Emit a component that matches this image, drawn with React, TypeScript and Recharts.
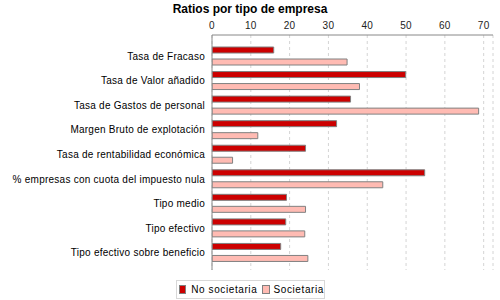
import { BarChart, Bar, XAxis, YAxis, CartesianGrid } from "recharts";

const categories: string[] = [
  "Tasa de Fracaso",
  "Tasa de Valor añadido",
  "Tasa de Gastos de personal",
  "Margen Bruto de explotación",
  "Tasa de rentabilidad económica",
  "% empresas con cuota del impuesto nula",
  "Tipo medio",
  "Tipo efectivo",
  "Tipo efectivo sobre beneficio",
];

const noSocietaria: number[] = [15.9, 49.9, 35.7, 32.1, 24.1, 54.8, 19.2, 19.0, 17.7];
const societaria: number[] = [34.8, 38.0, 68.7, 11.8, 5.3, 44.0, 24.1, 23.9, 24.7];

const xTicks: number[] = [0, 10, 20, 30, 40, 50, 60, 70];

const data = categories.map((name, i) => ({
  name,
  noSocietaria: noSocietaria[i],
  societaria: societaria[i],
}));

const font = "'Liberation Sans', Arial, sans-serif";

// plain ticks so long labels are not wrapped
const CategoryTick = (props: any) => {
  const { x, y, payload } = props;
  return (
    <text x={x} y={y} dy="0.355em" textAnchor="end" fontSize={10} fontFamily={font} fill="#000" letterSpacing={0.25}>
      {payload.value}
    </text>
  );
};

const ValueTick = (props: any) => {
  const { x, payload } = props;
  return (
    <text x={x} y={29} textAnchor="middle" fontSize={10} fontFamily={font} fill="#222" letterSpacing={0.3}>
      {payload.value}
    </text>
  );
};

const App: React.FC = () => {
  return (
    <div style={{ position: "absolute", left: 0, top: 0, width: 500, height: 300, fontFamily: font }}>
      <div
        style={{
          position: "absolute",
          top: 2,
          left: 0,
          width: 500,
          textAlign: "center",
          fontSize: 12,
          lineHeight: "14px",
          fontWeight: "bold",
          color: "#000",
        }}
      >
        Ratios por tipo de empresa
      </div>

      <BarChart
        width={500}
        height={300}
        data={data}
        layout="vertical"
        margin={{ top: 5, right: 7, left: 0, bottom: 30 }}
        barSize={6}
        barGap={6}
      >
        <CartesianGrid horizontal={false} stroke="#d4d4d4" strokeDasharray="3 3" />
        <XAxis
          type="number"
          orientation="top"
          height={30}
          domain={[0, 72.4]}
          ticks={xTicks}
          allowDataOverflow
          axisLine={{ stroke: "#888" }}
          tickLine={false}
          tick={<ValueTick />}
        />
        <YAxis
          type="category"
          dataKey="name"
          width={212}
          padding={{ top: 9, bottom: 5 }}
          axisLine={{ stroke: "#888" }}
          tickLine={false}
          tickSize={5}
          tickMargin={2}
          interval={0}
          tick={<CategoryTick />}
        />
        <Bar dataKey="noSocietaria" fill="#cc0000" stroke="#808080" strokeWidth={1} isAnimationActive={false} />
        <Bar dataKey="societaria" fill="#ffbbb3" stroke="#808080" strokeWidth={1} isAnimationActive={false} />
      </BarChart>

      <div
        style={{
          position: "absolute",
          left: 176,
          top: 280,
          width: 149,
          height: 19,
          border: "1px solid #d8d8d8",
          boxSizing: "border-box",
          display: "flex",
          alignItems: "center",
          fontSize: 10,
          letterSpacing: 0.6,
          whiteSpace: "nowrap",
          color: "#000",
        }}
      >
        <span style={{ display: "inline-block", width: 7, height: 7, background: "#cc0000", border: "1px solid #808080", marginLeft: 2, marginRight: 5 }} />
        <span>No societaria</span>
        <span style={{ display: "inline-block", width: 7, height: 7, background: "#ffbbb3", border: "1px solid #808080", marginLeft: 5, marginRight: 4 }} />
        <span>Societaria</span>
      </div>
    </div>
  );
};

export default App;
